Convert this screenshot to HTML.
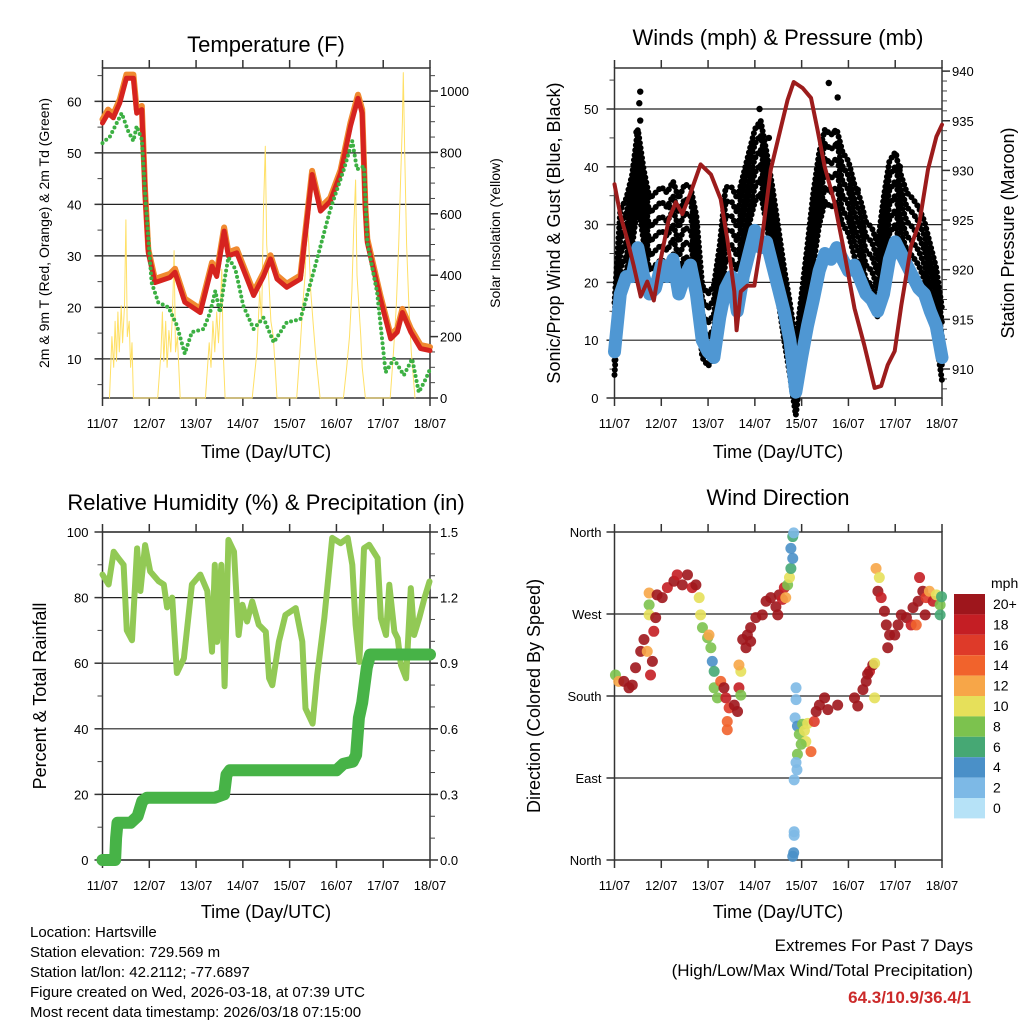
<!DOCTYPE html>
<html><head><meta charset="utf-8"><style>
body{margin:0;background:#fff}
svg{display:block;font-family:"Liberation Sans",sans-serif}
</style></head><body>
<svg id="s" width="1024" height="1024" viewBox="0 0 1024 1024">
<rect width="1024" height="1024" fill="#fff"/>
<text x="266" y="52" font-size="22" text-anchor="middle">Temperature (F)</text>
<text x="778" y="45" font-size="22" text-anchor="middle">Winds (mph) &amp; Pressure (mb)</text>
<text x="266" y="510" font-size="22" text-anchor="middle">Relative Humidity (%) &amp; Precipitation (in)</text>
<text x="778" y="505" font-size="22" text-anchor="middle">Wind Direction</text>
<text x="266" y="458" font-size="18" text-anchor="middle">Time (Day/UTC)</text>
<text x="778" y="458" font-size="18" text-anchor="middle">Time (Day/UTC)</text>
<text x="266" y="918" font-size="18" text-anchor="middle">Time (Day/UTC)</text>
<text x="778" y="918" font-size="18" text-anchor="middle">Time (Day/UTC)</text>
<text transform="translate(49,233) rotate(-90)" font-size="14" text-anchor="middle">2m &amp; 9m T (Red, Orange) &amp; 2m Td (Green)</text>
<text transform="translate(500,233) rotate(-90)" font-size="14" text-anchor="middle">Solar Insolation (Yellow)</text>
<text transform="translate(560,233) rotate(-90)" font-size="18" text-anchor="middle">Sonic/Prop Wind &amp; Gust (Blue, Black)</text>
<text transform="translate(1014,233) rotate(-90)" font-size="18" text-anchor="middle">Station Pressure (Maroon)</text>
<text transform="translate(46,696) rotate(-90)" font-size="18" text-anchor="middle">Percent &amp; Total Rainfall</text>
<text transform="translate(540,696) rotate(-90)" font-size="18" text-anchor="middle">Direction (Colored By Speed)</text>
<g font-size="15">
<text x="30" y="937">Location: Hartsville</text>
<text x="30" y="957">Station elevation: 729.569 m</text>
<text x="30" y="977">Station lat/lon: 42.2112; -77.6897</text>
<text x="30" y="997">Figure created on Wed, 2026-03-18, at 07:39 UTC</text>
<text x="30" y="1017">Most recent data timestamp: 2026/03/18 07:15:00</text>
</g>
<text x="973" y="951" font-size="17" text-anchor="end">Extremes For Past 7 Days</text>
<text x="973" y="976" font-size="17" text-anchor="end">(High/Low/Max Wind/Total Precipitation)</text>
<text x="971" y="1003" font-size="17" font-weight="bold" fill="#cc2a2a" text-anchor="end">64.3/10.9/36.4/1</text>
<text x="991" y="588" font-size="14">mph</text>
</svg>
<script>
const dayLabels=["11/07","12/07","13/07","14/07","15/07","16/07","17/07","18/07"];
const tempT=[0,0.12,0.23,0.37,0.51,0.66,0.73,0.84,0.91,0.98,1.12,1.44,1.55,1.76,2.09,2.34,2.44,2.6,2.69,2.87,3.23,3.44,3.59,3.73,3.94,4.23,4.48,4.66,4.87,5.09,5.3,5.46,5.55,5.62,5.66,5.94,6.16,6.3,6.41,6.59,6.8,7.0];
const tempV=[55.8,57.7,56.8,59.7,64.5,64.5,57.7,58.4,42,30.6,24.8,25.8,26.8,21,19,28,26,34.8,30,30.6,22.3,26,29.4,25.5,23.9,25.5,45.8,38.7,40.6,46,55.2,60.6,57.7,39,32.6,21.6,13.9,15.2,19,15.2,12,11.6];
const dewT=[0,0.16,0.41,0.55,0.66,0.73,0.84,0.91,1.05,1.19,1.41,1.59,1.76,1.91,2.16,2.3,2.41,2.51,2.62,2.69,2.84,3.01,3.23,3.44,3.66,3.94,4.23,4.51,4.87,5.16,5.34,5.44,5.59,5.66,5.87,6.05,6.23,6.44,6.62,6.76,6.91,7.0];
const dewV=[51.9,53.2,57.7,54.2,52.3,55.2,52.6,42,24.8,21,20,16.5,11,15.2,15.8,19,23.2,19,26,29.7,27.4,20.3,15.8,18,13.2,17.1,17.7,26.8,39,46.8,52.3,46.8,47.4,32.6,22.9,7.4,10,6.8,10,3.5,6.1,8];
const solarT=[0.15,0.2,0.24,0.27,0.3,0.33,0.36,0.4,0.43,0.47,0.5,0.53,0.57,0.6,0.63,0.66,1.18,1.25,1.28,1.31,1.35,1.38,1.42,1.46,1.5,1.53,1.56,1.6,1.66,2.2,2.28,2.32,2.36,2.4,2.44,2.48,2.52,2.55,2.58,2.62,3.2,3.3,3.36,3.4,3.44,3.48,3.51,3.55,3.6,3.65,3.73,4.15,4.22,4.28,4.33,4.37,4.41,4.45,4.5,4.55,4.65,5.15,5.22,5.28,5.33,5.37,5.41,5.44,5.48,5.52,5.55,5.62,6.15,6.22,6.28,6.33,6.37,6.41,6.43,6.46,6.5,6.55,6.6,6.68];
const solarV=[0,200,100,250,120,280,150,300,180,300,580,200,250,100,180,0,0,150,280,120,250,100,220,150,300,480,150,200,0,0,180,100,250,150,280,180,300,420,150,0,0,150,350,250,600,820,500,400,250,200,0,0,150,300,400,590,500,350,250,150,0,0,100,200,350,550,710,400,300,200,100,0,0,150,300,500,700,900,1060,800,500,300,150,0];
const windT=[0,0.125,0.25,0.375,0.5,0.625,0.75,0.875,1,1.125,1.25,1.375,1.5,1.625,1.75,1.875,2,2.125,2.25,2.375,2.5,2.625,2.75,2.875,3,3.125,3.25,3.375,3.5,3.625,3.75,3.875,4,4.125,4.25,4.375,4.5,4.625,4.75,4.875,5,5.125,5.25,5.375,5.5,5.625,5.75,5.875,6,6.125,6.25,6.375,6.5,6.625,6.75,6.875,7];
const sonicV=[8,18,21,21,26,21,18,19,23,21,24,18,21,23,18,10,8,7,14,19,21,15,21,25,29,26,27,23,19,15,10,1,7,12.5,17,22,25,24,26,24,22,23,20.5,18,17,15,18,24,27,25,23,21,19,18,15,12.5,7];
const gustV=[11,27,29,33,41,34,29,30,31,30,32,29,31.5,31,26,14,12.5,14,21,31,31,29,33,37,41,42.5,37,31,24,17,11,4,12.5,21,30,37,41,40,41,37,35.5,31.5,29,25,24,21,29,35.5,37,33,30,29,27.5,25,21,17,10];
const gustPeakT=[0.55,0.53,0.55,0.47,0.4,1.18,1.62,2.9,3.1,3.1,3.3,4.58,4.77,4.76,4.7,6.08,6.02,5.2,6.1];
const gustPeakV=[53,51,48,46,38,33,34,38.5,47,50,45,54.5,52,44,46,33,42,36,40];
const presT=[0,0.13,0.27,0.41,0.56,0.7,0.84,0.99,1.16,1.31,1.45,1.63,1.84,2.06,2.27,2.41,2.56,2.61,2.7,2.84,2.99,3.16,3.34,3.56,3.7,3.83,4.02,4.2,4.34,4.49,4.7,4.91,5.13,5.34,5.56,5.7,5.84,5.99,6.13,6.34,6.52,6.7,6.88,7.0];
const presV=[928.6,925.4,923.1,920.4,917.3,918.8,916.9,921.1,925.1,926.8,925.6,927.8,930.6,929.6,927.1,923.1,917.8,913.9,917.8,918.4,918.4,923.4,930.1,934.4,937.1,938.9,938.3,937.3,934.1,930.4,926.8,921.8,916.1,912.4,908.1,908.3,910.4,911.8,916.4,922.4,924.8,930.1,933.4,934.6];
const rhT=[0,0.13,0.24,0.34,0.45,0.52,0.63,0.74,0.81,0.91,1.02,1.2,1.31,1.38,1.49,1.59,1.74,1.91,2.09,2.24,2.34,2.4,2.45,2.54,2.61,2.69,2.81,2.91,2.99,3.09,3.2,3.34,3.49,3.56,3.63,3.77,3.91,4.13,4.27,4.34,4.49,4.59,4.74,4.91,5.09,5.24,5.34,5.41,5.49,5.59,5.7,5.88,5.95,6.06,6.13,6.24,6.31,6.38,6.49,6.59,6.66,6.77,6.88,6.99];
const rhV=[87,84,94,92,90,70,67,95,82,96,88,85,84,77,80,57,61.5,84,87,82,63.5,90,66.5,90,53,97.6,94,68.6,77.8,72.7,78.8,71.7,69.6,55.4,53.3,66.6,74.7,76.8,66.6,46.2,41.6,56.4,73.7,98.2,96.6,98.2,90,71.7,60.4,95.1,96.1,92,73.7,68.6,83.9,69.6,67.6,59.4,55.4,82.9,68.6,73.7,79.8,84.9];
const rainT=[0,0.27,0.29,0.32,0.6,0.75,0.85,0.95,2.4,2.6,2.65,2.72,5.0,5.15,5.35,5.42,5.48,5.55,5.65,5.72,7];
const rainV=[0,0,0.1,0.17,0.17,0.2,0.27,0.285,0.285,0.3,0.39,0.41,0.41,0.44,0.45,0.48,0.65,0.72,0.88,0.94,0.94];
const dirT=[0.02,0.09,0.2,0.31,0.38,0.45,0.56,0.63,0.7,0.77,0.81,0.84,0.74,0.74,0.74,0.88,0.91,1.02,1.13,1.27,1.34,1.45,1.56,1.66,1.74,1.81,1.84,1.88,1.99,2.02,2.06,2.09,2.13,2.13,2.2,2.27,2.34,2.38,2.45,2.41,2.41,2.56,2.63,2.66,2.7,2.66,2.7,2.74,2.84,2.91,2.81,2.91,3.02,3.16,3.24,3.34,3.45,3.49,3.52,3.59,3.63,3.66,3.7,3.74,3.77,3.81,3.77,3.81,3.83,3.88,3.88,3.86,3.91,3.95,4.02,4.06,4.09,3.99,3.91,3.88,3.9,3.84,3.84,3.84,3.83,3.81,4.2,4.13,4.27,4.31,4.38,4.49,4.56,4.77,5.13,5.2,5.31,5.38,5.45,5.52,5.56,5.56,5.41,5.59,5.66,5.63,5.7,5.77,5.81,5.88,5.84,5.99,6.06,6.13,6.24,6.34,6.38,6.49,6.52,6.59,6.66,6.73,6.81,6.88,6.96,6.99,6.96,6.64,6.45];
const dirV=[203,196,196,189,192,211,229,242,229,203,218,251,293,280,269,266,291,288,299,306,313,302,313,299,302,288,269,255,244,247,233,218,207,189,178,196,189,178,167,152,143,170,163,189,207,214,181,242,247,255,233,240,266,269,284,288,278,269,291,286,299,288,302,310,320,331,342,355,359,189,176,156,147,138,149,142,130,127,116,107,99,88,31,27,8,4,119,150,152,163,170,178,165,170,178,169,187,196,207,214,216,178,204,320,310,295,288,273,258,247,233,247,258,269,266,258,277,284,310,295,288,295,284,291,280,289,269,269,258];
const dirSpd=[8,12,22,22,22,22,22,22,12,18,22,18,12,8,10,22,22,22,18,22,18,22,22,18,22,10,10,8,8,12,8,4,6,8,8,14,22,18,16,14,14,22,22,18,10,12,8,22,22,22,22,22,22,22,22,22,22,22,22,18,18,12,8,10,6,4,4,6,2,2,2,2,4,8,8,10,10,8,8,2,2,2,2,2,4,4,14,10,16,22,22,22,22,22,22,22,22,22,18,22,10,10,22,12,10,22,18,22,22,22,22,22,22,22,22,18,22,22,18,22,16,12,18,10,8,6,6,22,14];
const speedBins=[0,2,4,6,8,10,12,14,16,18,20];
const speedLabels=["0","2","4","6","8","10","12","14","16","18","20+"];
const speedColors=["#b6e2f7","#7db9e6","#4a90c8","#46a874","#7cc24e","#e6e05a","#f7a648","#f1632c","#de3a29","#c41e24","#9e161c"];

const S=document.getElementById('s');const NS='http://www.w3.org/2000/svg';
function mk(tag,attrs){const e=document.createElementNS(NS,tag);for(const k in attrs)e.setAttribute(k,attrs[k]);S.appendChild(e);return e;}
function pts(T,V,fx,fy){return T.map((t,i)=>fx(t).toFixed(1)+','+fy(V[i]).toFixed(1)).join(' ');}

const P1={x0:102.5,x1:430,y0:68,y1:398,lo:21},P2={x0:614.5,x1:942,y0:68,y1:398,lo:16},P3={x0:102.5,x1:430,y0:532,y1:860,lo:14},P4={x0:614.5,x1:942,y0:532,y1:860,lo:13};
const xd=P=>d=>P.x0+d*(P.x1-P.x0)/7;
const x1=xd(P1),x2=xd(P2),x3=xd(P3),x4=xd(P4);
const yT=v=>398-(v-2.4)*5.15, yS=v=>398-v*0.307;
const yW=v=>398-v*5.78, yP=v=>369-(v-910)*9.93;
const yR=v=>860-v*3.28, yRain=v=>860-v/1.5*328;
const yD=v=>860-v*328/360;

function axes(P,name,leftTicks,leftFn,leftMinor,leftLabFn,rightTicks,rightFn,rightMinor,rightLab,grid){
  for(const v of grid){const y=leftFn(v);
    const g=mk('line',{x1:P.x0,x2:P.x1,y1:y,y2:y,stroke:'#222','stroke-width':1.2});
    
    }
  const b=mk('rect',{x:P.x0,y:P.y0,width:P.x1-P.x0,height:P.y1-P.y0,fill:'none',stroke:'#333','stroke-width':1.5});
  
  
  for(let d=0;d<=7;d++){const x=P.x0+d*(P.x1-P.x0)/7;
    for(const [a,c] of [[P.y1,P.y1+8],[P.y0,P.y0-8]]){const t=mk('line',{x1:x,x2:x,y1:a,y2:c,stroke:'#333','stroke-width':1.5});
      
      }
    const l=mk('text',{x:x,y:P.y1+30,'font-size':13,'text-anchor':'middle'});l.textContent=dayLabels[d];
    
    }
  for(const v of leftMinor){const y=leftFn(v);const t=mk('line',{x1:P.x0-5,x2:P.x0,y1:y,y2:y,stroke:'#444','stroke-width':1});
    
    }
  leftTicks.forEach((v,i)=>{const y=leftFn(v);const t=mk('line',{x1:P.x0-8,x2:P.x0,y1:y,y2:y,stroke:'#333','stroke-width':1.5});
    
    
    const l=mk('text',{x:P.x0-P.lo,y:y+5,'font-size':13,'text-anchor':'end'});l.textContent=leftLabFn[i];
    
    });
  if(rightFn){
    for(const v of rightMinor){const y=rightFn(v);const t=mk('line',{x1:P.x1,x2:P.x1+5,y1:y,y2:y,stroke:'#444','stroke-width':1});
      
      }
    rightTicks.forEach((v,i)=>{const y=rightFn(v);const t=mk('line',{x1:P.x1,x2:P.x1+8,y1:y,y2:y,stroke:'#333','stroke-width':1.5});
      
      
      const l=mk('text',{x:P.x1+10,y:y+5,'font-size':13});l.textContent=rightLab[i];
      
      });
  }
}
const rng=(a,b,s)=>{const r=[];for(let v=a;v<=b+1e-9;v+=s)r.push(+v.toFixed(3));return r;};
const tempTicks=[10,20,30,40,50,60], solarTicks=[0,200,400,600,800,1000];
axes(P1,'temp',tempTicks,yT,rng(5,65,5),tempTicks.map(String),solarTicks,yS,rng(0,1050,50),solarTicks.map(String),tempTicks);
const windTicks=[0,10,20,30,40,50], presTicks=[910,915,920,925,930,935,940];
axes(P2,'wind',windTicks,yW,rng(0,55,5),windTicks.map(String),presTicks,yP,rng(908,940,1),presTicks.map(String),windTicks);
const rhTicks=[0,20,40,60,80,100], rainTicks=[0,0.3,0.6,0.9,1.2,1.5];
axes(P3,'rh',rhTicks,yR,rng(0,100,10),rhTicks.map(String),rainTicks,yRain,rng(0,1.5,0.1),rainTicks.map(v=>v.toFixed(1)),rhTicks);
const dirTicks=[0,90,180,270,360], dirLabels=["North","East","South","West","North"];
axes(P4,'dir',dirTicks,yD,[],dirLabels,null,null,null,null,[90,180,270]);

function path(P,d,attrs,name){const e=mk('polyline',Object.assign({points:d,fill:'none','stroke-linejoin':'round','stroke-linecap':'round'},attrs));
  
  return e;}
// temperature
path(P1,pts(solarT,solarV,x1,yS),{stroke:'#ffe066','stroke-width':1},'solar-insolation-line');
path(P1,pts(tempT,tempV.map(v=>v+0.7),x1,yT),{stroke:'#f08a30','stroke-width':6},'temp-9m-line');
path(P1,pts(tempT,tempV,x1,yT),{stroke:'#d6231f','stroke-width':5},'temp-2m-line');
path(P1,pts(dewT,dewV,x1,yT),{stroke:'#3cb043','stroke-width':4,'stroke-dasharray':'0 5'},'dewpoint-line');
// winds
for(const off of [-7,-4.5,-2,0.5,3,5.5]){path(P2,pts(windT,gustV.map(v=>v+off),x2,yW),{stroke:'#000','stroke-width':6,'stroke-dasharray':'0 5'},'gust-dots');}
gustPeakT.forEach((t,i)=>{const c=mk('circle',{cx:x2(t),cy:yW(gustPeakV[i]),r:3.2,fill:'#000'});
  
  });
path(P2,pts(windT,sonicV,x2,yW),{stroke:'#4f97d3','stroke-width':13},'sonic-wind-line');
path(P2,pts(presT,presV,x2,yP),{stroke:'#9c1c1c','stroke-width':4},'pressure-line');
// RH
path(P3,pts(rhT,rhV,x3,yR),{stroke:'#92c955','stroke-width':6},'rh-line');
path(P3,pts(rainT,rainV,x3,yRain),{stroke:'#47b347','stroke-width':12},'precip-line');
// wind direction
function colorFor(s){let k=0;for(let i=0;i<speedBins.length;i++)if(s>=speedBins[i])k=i;return speedColors[k];}
dirT.forEach((t,i)=>{const c=mk('circle',{cx:x4(t),cy:yD(dirV[i]),r:5.5,fill:colorFor(dirSpd[i]),opacity:0.9});
  
  });
// colorbar
speedLabels.slice().reverse().forEach((lab,i)=>{const col=speedColors[speedColors.length-1-i];const y=594+i*20.4;
  const r=mk('rect',{x:954,y:y,width:31,height:20.4,fill:col});
  
  
  const l=mk('text',{x:993,y:y+15,'font-size':14});l.textContent=lab;
  
  });
</script>
</body></html>
